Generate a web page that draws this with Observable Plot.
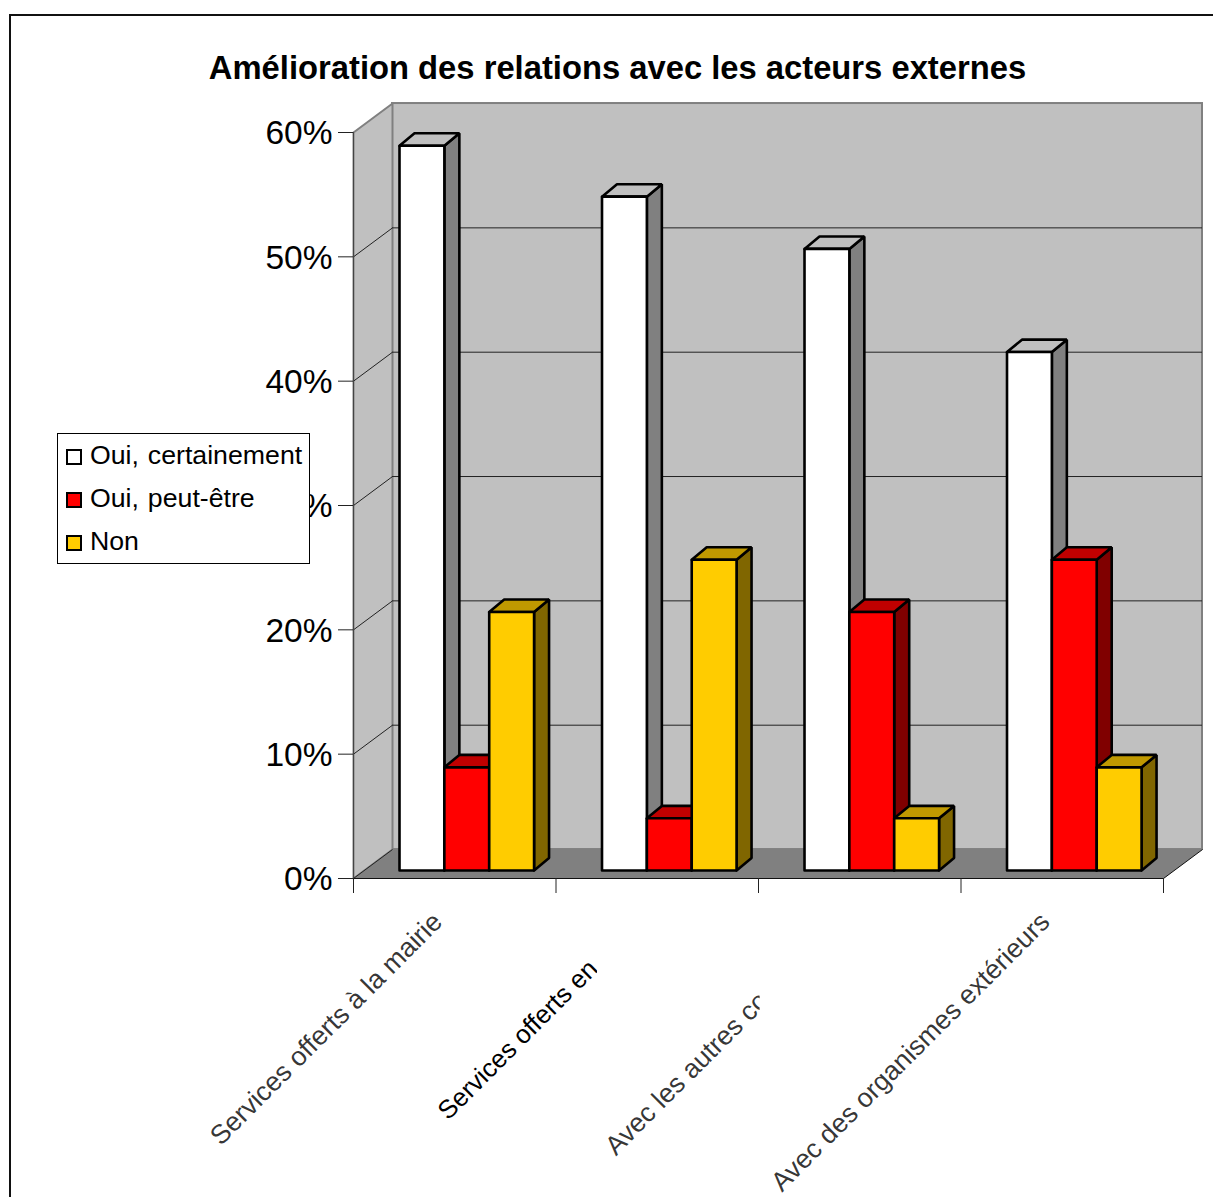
<!DOCTYPE html>
<html lang="fr">
<head>
<meta charset="utf-8">
<title>Amélioration des relations avec les acteurs externes</title>
<script src="https://cdn.jsdelivr.net/npm/d3@7"></script>
<script src="https://cdn.jsdelivr.net/npm/@observablehq/plot@0.6"></script>
<style>
  html, body { margin: 0; padding: 0; background: #fff; overflow: hidden; }
  body { width: 1213px; height: 1197px; position: relative; font-family: "Liberation Sans", Arial, sans-serif; color: #000; }
  #chart { position: absolute; left: 0; top: 0; }
  #chart svg { display: block; }
  #border { position: absolute; left: 9px; top: 14px; right: -4px; bottom: -4px; border: 2px solid #111; pointer-events: none; }
  #title { position: absolute; left: 0; top: 48px; width: 1235px; text-align: center; font-weight: bold; font-size: 32.75px; line-height: 40px; white-space: nowrap; }
  #legend { position: absolute; left: 57px; top: 433px; width: 251px; height: 129px; border: 1px solid #000; background: #fff; }
  .row { position: absolute; left: 8px; height: 43px; display: flex; align-items: center; font-size: 26.7px; word-spacing: 1.5px; white-space: nowrap; }
  .swatch { width: 12px; height: 12px; border: 2px solid #000; margin-right: 8px; margin-top: 3px; flex: none; }
</style>
</head>
<body>
<div id="chart"></div>
<div id="title"></div>
<div id="legend"></div>
<div id="border"></div>
<script>
const chartTitle = "Amélioration des relations avec les acteurs externes";
const categories = ["Services offerts à la mairie", "Services offerts en", "Avec les autres co", "Avec des organismes extérieurs"];
const seriesNames = ["Oui, certainement", "Oui, peut-être", "Non"];
const ouiCertainement = [58.3, 54.2, 50.0, 41.7];
const ouiPeutEtre = [8.3, 4.2, 20.8, 25.0];
const non = [20.8, 25.0, 4.2, 8.3];
const seriesValues = [ouiCertainement, ouiPeutEtre, non];
const frontColors = ["#ffffff", "#ff0000", "#ffcc00"];
const topColors = ["#c0c0c0", "#c00000", "#c09900"];
const sideColors = ["#808080", "#800000", "#806600"];
const yTicks = [0, 10, 20, 30, 40, 50, 60];
const xTicks = [0, 1, 2, 3, 4];

// Depth of the 3D box and of the bars, in scale units (slots along x, percent along y)
const wallX = 0.1926, wallY = 2.33;
const barDepthX = 0.074, barDepthY = 1.0;
const barLift = 0.64, barStart = 0.2272, barWidth = 0.2215;
// How far a cut label's visible end sits down its own diagonal, in px
const labelTrim = [0, 47, 79, 0];
const labelOpacity = [0.8, 1, 0.8, 0.8];
const labelSize = [26.8, 25.8, 26.7, 26.8];

const faces = [];
categories.forEach((c, i) => {
  seriesNames.forEach((s, j) => {
    const x0 = i + barStart + j * barWidth, x1 = x0 + barWidth;
    const b = barLift, t = seriesValues[j][i] + barLift;
    const add = (kind, fill, pts) => pts.concat([pts[0]]).forEach(([x, y]) => faces.push({id: `${i}-${j}-${kind}`, x, y, fill}));
    add("side", sideColors[j], [[x1, b], [x1 + barDepthX, b + barDepthY], [x1 + barDepthX, t + barDepthY], [x1, t]]);
    add("top", topColors[j], [[x0, t], [x1, t], [x1 + barDepthX, t + barDepthY], [x0 + barDepthX, t + barDepthY]]);
    add("front", frontColors[j], [[x0, b], [x1, b], [x1, t], [x0, t]]);
  });
});

const sideWall = [[0, 0], [wallX, wallY], [wallX, 60 + wallY], [0, 60], [0, 0]];
const floor = [[0, 0], [4, 0], [4 + wallX, wallY], [wallX, wallY], [0, 0]];
const px = d => d[0], py = d => d[1];

const plot = Plot.plot({
  width: 1213, height: 1197,
  marginLeft: 353, marginRight: 50, marginTop: 132, marginBottom: 319,
  style: {background: "#fff", fontFamily: "'Liberation Sans', Arial, sans-serif", color: "#000"},
  x: {domain: [0, 4], axis: null},
  y: {domain: [0, 60], axis: null},
  color: {type: "identity"},
  marks: [
    // back wall
    Plot.rect([0], {x1: wallX, x2: 4 + wallX, y1: wallY, y2: 60 + wallY, fill: "#c0c0c0", stroke: "#808080", strokeWidth: 2, inset: 0}),
    // side wall
    Plot.line(sideWall, {x: px, y: py, fill: "#c0c0c0", stroke: "#808080", strokeWidth: 2}),
    // floor
    Plot.line(floor, {x: px, y: py, fill: "#808080", stroke: "none"}),
    // gridlines
    Plot.ruleY(yTicks.slice(1, -1), {y: d => d + wallY, x1: wallX, x2: 4 + wallX, stroke: "#222", strokeWidth: 1}),
    Plot.link(yTicks.slice(0, -1), {x1: 0, x2: wallX, y1: d => d, y2: d => d + wallY, stroke: "#222", strokeWidth: 1}),
    // front edges of the box
    Plot.ruleX([0], {y1: 0, y2: 60, stroke: "#444", strokeWidth: 1}),
    Plot.ruleY([0], {x1: 0, x2: 4, stroke: "#111", strokeWidth: 1}),
    Plot.link([4], {x1: d => d, x2: d => d + wallX, y1: 0, y2: wallY, stroke: "#111", strokeWidth: 1}),
    // bars
    Plot.line(faces, {x: "x", y: "y", z: "id", fill: "fill", stroke: "#000", strokeWidth: 2.6, strokeLinejoin: "miter"}),
    // axes
    Plot.axisY({ticks: yTicks, tickFormat: null, text: null, tickSize: 15, stroke: "#222", anchor: "left", label: null}),
    Plot.text(yTicks, {x: () => 0, y: d => d, text: d => d + "%", textAnchor: "end", fontSize: 33.5, fill: "#000", dx: -21, dy: 1}),
    Plot.axisX({ticks: xTicks, tickFormat: () => "", tickSize: 15, stroke: "#222", anchor: "bottom", label: null}),
    // rotated category labels
    ...categories.map((c, i) => Plot.text([c], {
      x: () => i + 0.5, y: () => 0, text: d => d,
      rotate: -45, textAnchor: "end", fontSize: labelSize[i], fill: "#000", fillOpacity: labelOpacity[i],
      dx: -17 - labelTrim[i], dy: 39 + labelTrim[i]
    })),
    // the reference cuts two labels off along a vertical edge
    Plot.rect([0], {x1: 1.205, x2: 1.32, y1: -4, y2: -9, fill: "#fff"}),
    Plot.rect([0], {x1: 2.008, x2: 2.12, y1: -7, y2: -12, fill: "#fff"})
  ]
});
document.getElementById("chart").append(plot);
document.getElementById("title").textContent = chartTitle;

const legend = document.getElementById("legend");
seriesNames.forEach((name, j) => {
  const row = document.createElement("div");
  row.className = "row";
  row.style.top = (j * 43) + "px";
  const sw = document.createElement("span");
  sw.className = "swatch";
  sw.style.background = frontColors[j];
  row.append(sw, document.createTextNode(name));
  legend.append(row);
});
</script>
</body>
</html>
